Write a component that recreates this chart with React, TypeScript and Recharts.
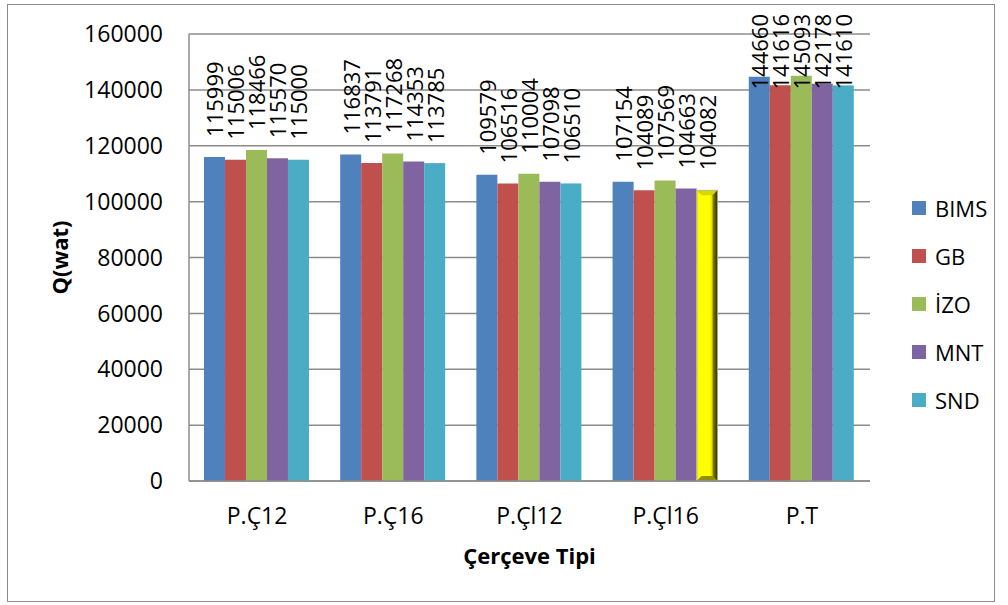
import React from 'react'
import {
  Bar,
  BarChart,
  CartesianGrid,
  LabelList,
  Legend,
  XAxis,
  YAxis,
} from 'recharts'

const CATEGORIES = ['P.Ç12', 'P.Ç16', 'P.Çl12', 'P.Çl16', 'P.T']
const BIMS = [115999, 116837, 109579, 107154, 144660]
const GB = [115006, 113791, 106516, 104089, 141616]
const IZO = [118466, 117268, 110004, 107569, 145093]
const MNT = [115570, 114353, 107098, 104663, 142178]
const SND = [115000, 113785, 106510, 104082, 141610]
const Y_TICKS = [0, 20000, 40000, 60000, 80000, 100000, 120000, 140000, 160000]

// highlighted SND column
const HIGHLIGHT = 'P.Çl16'

const SERIES = [
  { key: 'BIMS', color: '#4F81BD', values: BIMS },
  { key: 'GB', color: '#C0504D', values: GB },
  { key: 'İZO', color: '#9BBB59', values: IZO },
  { key: 'MNT', color: '#8064A2', values: MNT },
  { key: 'SND', color: '#4BACC6', values: SND },
]

const data = CATEGORIES.map((category, i) => {
  const row: Record<string, string | number> = { category }
  SERIES.forEach((s) => {
    row[s.key] = s.values[i]
  })
  return row
})

const FONT = '"Open Sans", sans-serif'
const GRID = '#8c8c8c'
const LABEL_SIZE = 22
const LABEL_LEN = 76
const LABEL_TOP = 14

function ValueLabel(props: any) {
  const { x, y, width, value } = props
  const cx = Number(x) + Number(width) / 2
  const bottom = Number(y) - 20
  const clamped = bottom - LABEL_LEN < LABEL_TOP
  const ty = clamped ? LABEL_TOP : bottom
  return (
    <text
      x={cx}
      y={ty}
      transform={`rotate(-90 ${cx} ${ty})`}
      textAnchor={clamped ? 'end' : 'start'}
      dominantBaseline="central"
      fontSize={LABEL_SIZE}
      fontFamily={FONT}
      fill="#000"
    >
      {value}
    </text>
  )
}

function SndShape(props: any) {
  const { x, y, width, height, fill, payload } = props
  if (payload?.category !== HIGHLIGHT) {
    return <rect x={x} y={y} width={width} height={height} fill={fill} />
  }
  const b = 5
  const r = x + width
  const btm = y + height
  return (
    <g>
      <defs>
        <linearGradient id="sndGlow" x1="0" y1="0" x2="1" y2="0">
          <stop offset="0%" stopColor="#c9c900" />
          <stop offset="10%" stopColor="#ffff00" />
          <stop offset="62%" stopColor="#ffff00" />
          <stop offset="100%" stopColor="#9a9a00" />
        </linearGradient>
        <linearGradient id="sndEdge" x1="0" y1="0" x2="1" y2="0">
          <stop offset="0%" stopColor="#8a8a00" />
          <stop offset="100%" stopColor="#2e2e00" />
        </linearGradient>
      </defs>
      <rect x={x} y={y} width={width} height={height} fill="url(#sndGlow)" />
      <polygon
        points={`${x},${y} ${r},${y} ${r - b},${y + b} ${x + b},${y + b}`}
        fill="#d6d600"
      />
      <polygon
        points={`${r - b},${y + b} ${r},${y} ${r},${btm} ${r - b},${btm - b}`}
        fill="url(#sndEdge)"
      />
      <polygon
        points={`${x + b},${btm - b} ${r - b},${btm - b} ${r},${btm} ${x},${btm}`}
        fill="#8f8f00"
      />
      <rect x={x} y={y} width={width} height={height} fill="none" stroke="#b5b5b5" strokeWidth={0.8} />
    </g>
  )
}

// legend rows follow the series order
function LegendBox() {
  return (
    <div style={{ fontFamily: FONT, fontSize: 22, color: '#000' }}>
      {SERIES.map((s) => (
        <div key={s.key} style={{ display: 'flex', alignItems: 'center', height: 48 }}>
          <span style={{ width: 14, height: 14, background: s.color, marginRight: 9, display: 'inline-block' }} />
          <span style={{ lineHeight: '22px' }}>{s.key}</span>
        </div>
      ))}
    </div>
  )
}

export default function App() {
  return (
    <div style={{ position: 'absolute', left: 0, top: 0, width: 1008, height: 605, background: '#fff' }}>
      <div
        style={{
          position: 'absolute',
          left: 7,
          top: 4,
          width: 988,
          height: 598,
          border: '1.5px solid #8c8c8c',
          boxSizing: 'border-box',
        }}
      />
      <div style={{ position: 'absolute', left: 0, top: 0 }}>
        <BarChart
          width={1008}
          height={605}
          data={data}
          margin={{ top: 34, right: 138, left: 0, bottom: 24 }}
          barCategoryGap="11%"
          barGap={0}
          style={{ fontFamily: FONT }}
        >
          <CartesianGrid vertical={false} stroke={GRID} strokeWidth={1.5} />
          <XAxis
            dataKey="category"
            height={100}
            axisLine={{ stroke: GRID, strokeWidth: 1.5 }}
            tickLine={false}
            tickSize={0}
            tickMargin={27}
            tick={{ fill: '#000', fontSize: 23, fontFamily: FONT }}
            label={{
              content: ({ viewBox }: any) => (
                <text
                  x={viewBox.x + viewBox.width / 2}
                  y={564}
                  textAnchor="middle"
                  fontSize={22}
                  fontWeight={700}
                  fontFamily={FONT}
                  fill="#000"
                >
                  Çerçeve Tipi
                </text>
              ),
            }}
          />
          <YAxis
            width={189}
            domain={[0, 160000]}
            ticks={Y_TICKS}
            interval={0}
            axisLine={{ stroke: GRID, strokeWidth: 1.5 }}
            tickLine={false}
            tickSize={0}
            tickMargin={26}
            tick={{ fill: '#000', fontSize: 23, fontFamily: FONT }}
            label={{
              content: ({ viewBox }: any) => {
                const cy = viewBox.y + viewBox.height / 2
                return (
                  <text
                    x={59}
                    y={cy}
                    transform={`rotate(-90 59 ${cy})`}
                    textAnchor="middle"
                    dominantBaseline="central"
                    fontSize={22}
                    fontWeight={700}
                    fontFamily={FONT}
                    fill="#000"
                  >
                    Q(wat)
                  </text>
                )
              },
            }}
          />
          <Legend
            layout="vertical"
            align="center"
            verticalAlign="middle"
            wrapperStyle={{ left: 912, top: 184, width: 96 }}
            content={<LegendBox />}
          />
          {SERIES.map((s) => (
            <Bar
              key={s.key}
              dataKey={s.key}
              name={s.key}
              fill={s.color}
              isAnimationActive={false}
              shape={s.key === 'SND' ? SndShape : undefined}
            >
              <LabelList dataKey={s.key} content={ValueLabel} />
            </Bar>
          ))}
        </BarChart>
      </div>
    </div>
  )
}
